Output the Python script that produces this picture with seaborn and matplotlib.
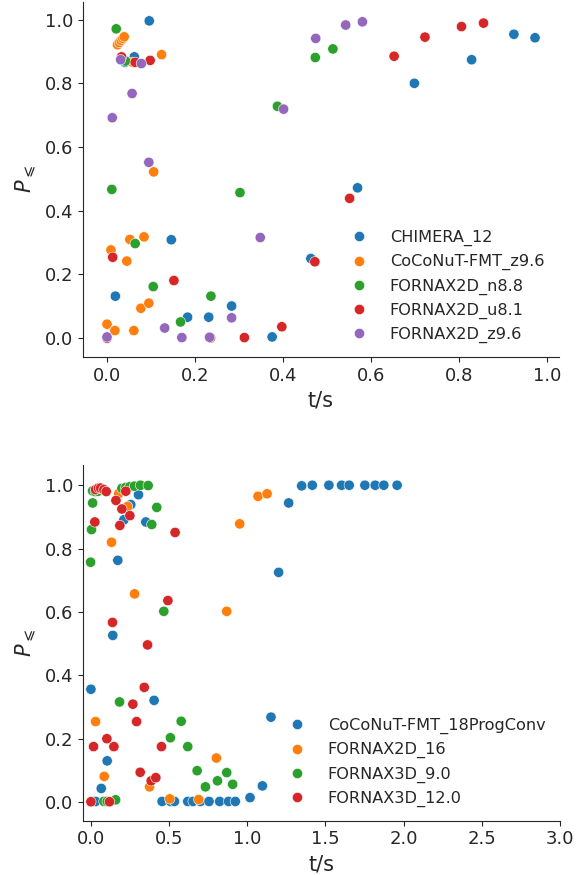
import pandas as pd
import matplotlib
matplotlib.use('Agg')
import matplotlib.pyplot as plt
import seaborn as sns

# top panel series
chimera_12_t = [0.096, 0.062, 0.041, 0.924, 0.972, 0.828, 0.698, 0.569, 0.463, 0.019,
                0.146, 0.183, 0.231, 0.283, 0.375]
chimera_12_p = [0.996, 0.883, 0.866, 0.954, 0.943, 0.874, 0.800, 0.472, 0.250, 0.132,
                0.309, 0.066, 0.066, 0.101, 0.004]

coconut_z96_t = [0.024, 0.028, 0.032, 0.036, 0.039, 0.124, 0.106, 0.058, 0.000, 0.009,
                 0.018, 0.045, 0.052, 0.061, 0.077, 0.084, 0.095]
coconut_z96_p = [0.921, 0.928, 0.935, 0.941, 0.946, 0.890, 0.522, 0.866, 0.044, 0.277,
                 0.024, 0.242, 0.310, 0.024, 0.094, 0.318, 0.110]

fornax2d_n88_t = [0.021, 0.042, 0.387, 0.011, 0.302, 0.473, 0.513, 0.064, 0.105, 0.167, 0.236]
fornax2d_n88_p = [0.971, 0.870, 0.728, 0.467, 0.457, 0.881, 0.908, 0.297, 0.162, 0.051, 0.132]

fornax2d_u81_t = [0.033, 0.064, 0.098, 0.652, 0.722, 0.805, 0.855, 0.551, 0.472, 0.013,
                  0.152, 0.397, 0.312, 0.235, 0.000]
fornax2d_u81_p = [0.883, 0.866, 0.872, 0.885, 0.945, 0.978, 0.989, 0.439, 0.240, 0.254,
                  0.181, 0.036, 0.002, 0.001, 0.000]

fornax2d_z96_t = [0.031, 0.078, 0.057, 0.012, 0.095, 0.401, 0.474, 0.542, 0.580, 0.348,
                  0.131, 0.170, 0.233, 0.283, 0.000]
fornax2d_z96_p = [0.874, 0.862, 0.768, 0.692, 0.552, 0.719, 0.941, 0.983, 0.993, 0.316,
                  0.032, 0.002, 0.003, 0.064, 0.004]

# bottom panel series
coconut_18_t = [1.349, 1.417, 1.523, 1.604, 1.653, 1.753, 1.819, 1.874, 1.959, 1.266,
                1.202, 0.306, 0.257, 0.213, 0.353, 0.174, 0.142, 0.002, 0.406, 0.106,
                0.068, 0.032, 1.153, 1.098, 1.019, 0.457, 0.511, 0.536, 0.621, 0.655,
                0.702, 0.757, 0.825, 0.882, 0.925]
coconut_18_p = [0.998, 1.000, 1.000, 1.000, 1.000, 1.000, 1.000, 1.000, 1.000, 0.944,
                0.725, 0.970, 0.939, 0.891, 0.884, 0.763, 0.526, 0.356, 0.321, 0.130,
                0.043, 0.002, 0.268, 0.051, 0.014, 0.002, 0.002, 0.002, 0.002, 0.002,
                0.002, 0.002, 0.002, 0.002, 0.002]

fornax2d_16_t = [1.070, 1.128, 0.953, 0.870, 0.281, 0.134, 0.179, 0.236, 0.032, 0.087,
                 0.377, 0.506, 0.691, 0.804]
fornax2d_16_p = [0.965, 0.973, 0.878, 0.602, 0.657, 0.820, 0.973, 0.933, 0.254, 0.081,
                 0.048, 0.010, 0.008, 0.139]

fornax3d_90_t = [0.013, 0.030, 0.048, 0.200, 0.225, 0.250, 0.280, 0.319, 0.368, 0.423,
                 0.391, 0.013, 0.006, 0.000, 0.468, 0.185, 0.579, 0.510, 0.621, 0.681,
                 0.734, 0.811, 0.870, 0.908, 0.085, 0.106, 0.160]
fornax3d_90_p = [0.982, 0.980, 0.981, 0.990, 0.993, 0.995, 0.997, 1.000, 0.999, 0.930,
                 0.876, 0.944, 0.860, 0.757, 0.602, 0.316, 0.255, 0.203, 0.175, 0.099,
                 0.048, 0.067, 0.093, 0.056, 0.002, 0.002, 0.007]

fornax3d_120_t = [0.032, 0.050, 0.064, 0.085, 0.100, 0.225, 0.162, 0.200, 0.251, 0.187,
                  0.027, 0.540, 0.494, 0.140, 0.364, 0.343, 0.270, 0.294, 0.104, 0.019,
                  0.149, 0.453, 0.317, 0.387, 0.417, 0.002, 0.121]
fornax3d_120_p = [0.986, 0.991, 0.991, 0.986, 0.980, 0.981, 0.952, 0.925, 0.904, 0.873,
                  0.884, 0.851, 0.636, 0.567, 0.496, 0.362, 0.309, 0.254, 0.200, 0.175,
                  0.175, 0.175, 0.094, 0.067, 0.077, 0.001, 0.001]

top_series = {
    'CHIMERA_12': (chimera_12_t, chimera_12_p),
    'CoCoNuT-FMT_z9.6': (coconut_z96_t, coconut_z96_p),
    'FORNAX2D_n8.8': (fornax2d_n88_t, fornax2d_n88_p),
    'FORNAX2D_u8.1': (fornax2d_u81_t, fornax2d_u81_p),
    'FORNAX2D_z9.6': (fornax2d_z96_t, fornax2d_z96_p),
}
bottom_series = {
    'CoCoNuT-FMT_18ProgConv': (coconut_18_t, coconut_18_p),
    'FORNAX2D_16': (fornax2d_16_t, fornax2d_16_p),
    'FORNAX3D_9.0': (fornax3d_90_t, fornax3d_90_p),
    'FORNAX3D_12.0': (fornax3d_120_t, fornax3d_120_p),
}


def to_frame(series):
    rows = []
    for name, (t, p) in series.items():
        for ti, pi in zip(t, p):
            rows.append({'t': ti, 'P': pi, 'model': name})
    return pd.DataFrame(rows)


sns.set_style('ticks')
plt.rcParams['font.family'] = ['DejaVu Sans']

fig = plt.figure(figsize=(5.87, 8.75), dpi=100)
ax1 = fig.add_axes([0.141, 0.592, 0.811, 0.406])
ax2 = fig.add_axes([0.141, 0.062, 0.813, 0.407])

df_top = to_frame(top_series)
df_bot = to_frame(bottom_series)

sns.scatterplot(data=df_top, x='t', y='P', hue='model', palette='tab10', s=55,
                edgecolor='white', linewidth=0.4, ax=ax1)
sns.scatterplot(data=df_bot, x='t', y='P', hue='model', palette='tab10', s=55,
                edgecolor='white', linewidth=0.4, ax=ax2)

ax1.set_xlim(-0.055, 1.026)
ax1.set_ylim(-0.059, 1.056)
ax2.set_xlim(-0.05, 3.0)
ax2.set_ylim(-0.059, 1.065)
ax1.set_xticks([0.0, 0.2, 0.4, 0.6, 0.8, 1.0])
ax2.set_xticks([0.0, 0.5, 1.0, 1.5, 2.0, 2.5, 3.0])

for ax in (ax1, ax2):
    ax.set_yticks([0.0, 0.2, 0.4, 0.6, 0.8, 1.0])
    ax.set_xlabel('t/s', fontsize=15)
    ax.set_ylabel(r'$P_{\leqslant}$', fontsize=15)
    ax.tick_params(labelsize=13)
    sns.despine(ax=ax)

ax1.legend(loc='lower right', bbox_to_anchor=(1.0, -0.002), frameon=False, fontsize=11.6,
           title=None, handletextpad=0.9)
ax2.legend(loc='lower right', bbox_to_anchor=(1.0, -0.002), frameon=False, fontsize=11.6,
           title=None, handletextpad=0.9)

plt.savefig('out.png', dpi=100)
